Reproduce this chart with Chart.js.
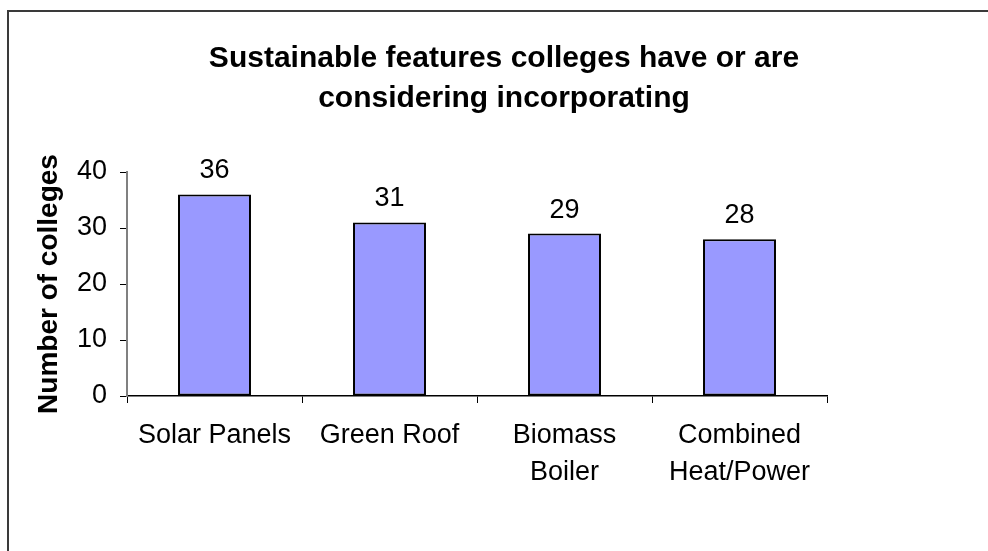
<!DOCTYPE html>
<html>
<head>
<meta charset="utf-8">
<script src="https://cdn.jsdelivr.net/npm/chart.js@4.4.0/dist/chart.umd.min.js"></script>
<style>
  html, body { margin: 0; padding: 0; background: #fff; overflow: hidden; }
  #frame { position: absolute; left: 7px; top: 10px; width: 1100px; height: 700px; border: 2px solid #3a3a3a; }
  #wrap { position: absolute; left: 0; top: 0; width: 988px; height: 551px; }
</style>
</head>
<body>
<div id="frame"></div>
<div id="wrap"><canvas id="featuresChart" width="988" height="551"></canvas></div>
<script>
const features = [["Solar Panels"], ["Green Roof"], ["Biomass", "Boiler"], ["Combined", "Heat/Power"]];
const collegeCounts = [36, 31, 29, 28];
const titleLines = ["Sustainable features colleges have or are", "considering incorporating"];
const yTicks = [0, 10, 20, 30, 40];

const FONT = "'Liberation Sans', Arial, sans-serif";

// two-line bold title, drawn by hand so it can sit off-centre
const chartTitle = {
  id: "chartTitle",
  afterDraw(chart) {
    const ctx = chart.ctx;
    ctx.save();
    ctx.font = "bold 30px " + FONT;
    ctx.fillStyle = "#000";
    ctx.textAlign = "center";
    ctx.textBaseline = "alphabetic";
    titleLines.forEach((line, i) => ctx.fillText(line, 504, 67 + i * 40));
    ctx.restore();
  }
};

// value written above each bar
const valueLabels = {
  id: "valueLabels",
  afterDatasetsDraw(chart) {
    const ctx = chart.ctx;
    const meta = chart.getDatasetMeta(0);
    ctx.save();
    ctx.font = "27px " + FONT;
    ctx.fillStyle = "#000";
    ctx.textAlign = "center";
    ctx.textBaseline = "alphabetic";
    meta.data.forEach((bar, i) => {
      ctx.fillText(String(collegeCounts[i]), bar.x, bar.y - 16);
    });
    ctx.restore();
  }
};

const ctx = document.getElementById("featuresChart").getContext("2d");
new Chart(ctx, {
  type: "bar",
  data: {
    labels: features,
    datasets: [{
      data: collegeCounts,
      backgroundColor: "#9999ff",
      borderColor: "#000",
      borderWidth: 2,
      borderSkipped: false,
      categoryPercentage: 1,
      barPercentage: 0.417
    }]
  },
  options: {
    responsive: false,
    animation: false,
    layout: { padding: { top: 172, right: 161, bottom: 55, left: 0 } },
    plugins: {
      legend: { display: false },
      title: { display: false },
      tooltip: { enabled: false }
    },
    scales: {
      x: {
        afterFit: scale => { scale.height = 100; },
        grid: { drawOnChartArea: false, offset: true, tickLength: 7, color: "#000", lineWidth: 1 },
        border: { color: "#000", width: 1.5 },
        ticks: {
          color: "#000",
          padding: 14,
          maxRotation: 0,
          autoSkip: false,
          font: { family: FONT, size: 27, lineHeight: 1.37 }
        }
      },
      y: {
        min: 0,
        max: 40,
        afterFit: scale => { scale.width = 127; },
        afterBuildTicks: scale => { scale.ticks = yTicks.map(v => ({ value: v })); },
        grid: { drawOnChartArea: false, tickLength: 7, color: "#000", lineWidth: 1 },
        border: { color: "#808080", width: 2 },
        ticks: {
          color: "#000",
          padding: 13,
          font: { family: FONT, size: 27 }
        },
        title: {
          display: true,
          text: "Number of colleges",
          color: "#000",
          padding: { top: 32, bottom: 0 },
          font: { family: FONT, size: 28, weight: "bold" }
        }
      }
    }
  },
  plugins: [chartTitle, valueLabels]
});
</script>
</body>
</html>
